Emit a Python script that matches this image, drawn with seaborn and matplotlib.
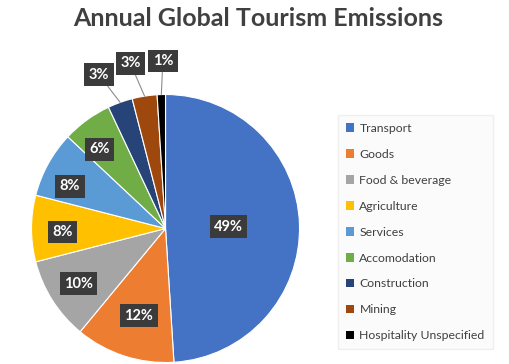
import numpy as np
import matplotlib
matplotlib.use("Agg")
import matplotlib.pyplot as plt
import seaborn as sns

# Data
categories = ["Transport", "Goods", "Food & beverage", "Agriculture", "Services",
              "Accomodation", "Construction", "Mining", "Hospitality Unspecified"]
shares = [49, 12, 10, 8, 8, 6, 3, 3, 1]
colors = ["#4472C4", "#ED7D31", "#A5A5A5", "#FFC000", "#5B9BD5",
          "#70AD47", "#264478", "#9E480E", "#000000"]

# label placement (fraction of radius) and small angle nudges, degrees
label_dist = [0.47, 0.68, 0.77, 0.77, 0.78, 0.77, 1.25, 1.26, 1.25]
label_shift = [0, 1, 0, 2, 5, 4, 3.6, 3, -0.9]

sns.set_theme(style="white")
plt.rcParams["font.family"] = ["Lato", "DejaVu Sans"]
palette = sns.color_palette(colors)

fig = plt.figure(figsize=(5.1, 3.64), dpi=100)
ax = fig.add_axes([0.0618, 0.0041, 0.5255, 0.7363])

wedges, _ = ax.pie(shares, colors=palette, startangle=90, counterclock=False,
                   wedgeprops=dict(edgecolor="white", linewidth=0.8))
ax.set_xlim(-1, 1)
ax.set_ylim(-1, 1)

box = dict(boxstyle="square,pad=0.3", facecolor="#3b3b3b", edgecolor="none")
for w, val, d, s in zip(wedges, shares, label_dist, label_shift):
    mid = np.deg2rad((w.theta1 + w.theta2) / 2)
    lab = np.deg2rad(np.rad2deg(mid) + s)
    pos = (d * np.cos(lab), d * np.sin(lab))
    if d > 1:
        ax.annotate(f"{val}%", xy=(np.cos(mid), np.sin(mid)), xytext=pos,
                    ha="center", va="center", color="white", fontsize=10.5,
                    fontweight="bold", bbox=box, annotation_clip=False,
                    arrowprops=dict(arrowstyle="-", color="#8c8c8c", lw=0.8,
                                    shrinkA=0, shrinkB=0))
    else:
        ax.text(pos[0], pos[1], f"{val}%", ha="center", va="center",
                color="white", fontsize=10.5, fontweight="bold", bbox=box)

fig.text(0.507, 0.95, "Annual Global Tourism Emissions", ha="center", va="center",
         fontsize=18, fontweight="bold", color="#404040")

leg = fig.legend(wedges, categories, loc="upper left",
                 bbox_to_anchor=(338 / 510, 1 - 115 / 364),
                 frameon=True, fontsize=8.8, labelcolor="#404040",
                 handlelength=0.7, handleheight=0.7, handletextpad=0.4,
                 labelspacing=1.22, borderpad=0.65, borderaxespad=0)
leg.get_frame().set_facecolor("#fafafa")
leg.get_frame().set_edgecolor("#ececec")
leg.get_frame().set_boxstyle("square,pad=0")
for h in leg.legend_handles:
    h.set_edgecolor("none")

fig.savefig("out.png", dpi=100, facecolor="white")
